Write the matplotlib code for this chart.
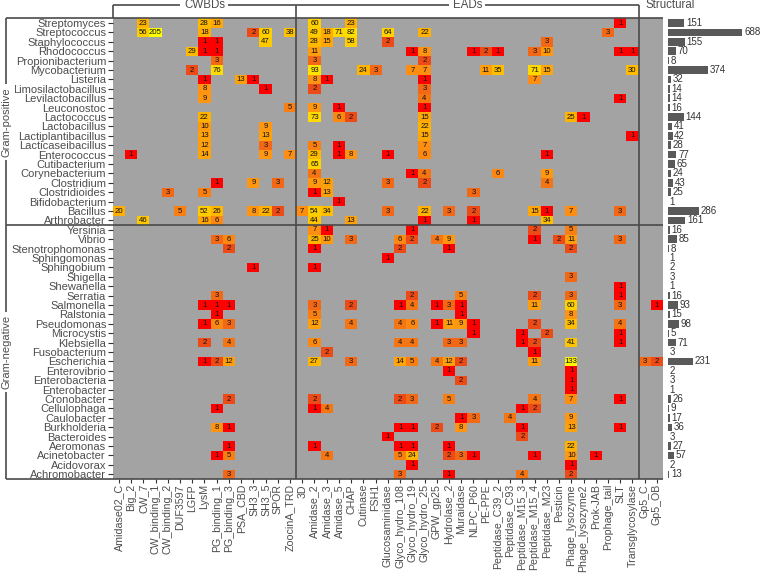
import numpy as np
import matplotlib
matplotlib.use("Agg")
import matplotlib.pyplot as plt
from matplotlib.colors import LinearSegmentedColormap, LogNorm

plt.rcParams['font.family'] = ['Liberation Sans', 'DejaVu Sans']

# ---------------- data ----------------
cwbd_cols = ["Amidase02_C", "Big_2", "CW_7", "CW_binding_1", "CW_binding_2", "DUF3597",
             "LGFP", "LysM", "PG_binding_1", "PG_binding_3", "PSA_CBD", "SH3_3", "SH3_5",
             "SPOR", "ZoocinA_TRD"]
ead_cols = ["3D", "Amidase_2", "Amidase_3", "Amidase_5", "CHAP", "Cutinase", "FSH1",
            "Glucosaminidase", "Glyco_hydro_108", "Glyco_hydro_19", "Glyco_hydro_25",
            "GPW_gp25", "Hydrolase_2", "Muraidase", "NLPC_P60", "PE-PPE", "Peptidase_C39_2",
            "Peptidase_C93", "Peptidase_M15_3", "Peptidase_M15_4", "Peptidase_M23",
            "Pesticin", "Phage_lysozyme", "Phage_lysozyme2", "Prok-JAB", "Prophage_tail",
            "SLT", "Transglycosylase"]
struct_cols = ["Gp5_C", "Gp5_OB"]

gram_pos = ["Streptomyces", "Streptococcus", "Staphylococcus", "Rhodococcus",
            "Propionibacterium", "Mycobacterium", "Listeria", "Limosilactobacillus",
            "Levilactobacillus", "Leuconostoc", "Lactococcus", "Lactobacillus",
            "Lactiplantibacillus", "Lacticaseibacillus", "Enterococcus", "Cutibacterium",
            "Corynebacterium", "Clostridium", "Clostridioides", "Bifidobacterium",
            "Bacillus", "Arthrobacter"]
gram_neg = ["Yersinia", "Vibrio", "Stenotrophomonas", "Sphingomonas", "Sphingobium",
            "Shigella", "Shewanella", "Serratia", "Salmonella", "Ralstonia", "Pseudomonas",
            "Microcystis", "Klebsiella", "Fusobacterium", "Escherichia", "Enterovibrio",
            "Enterobacteria", "Enterobacter", "Cronobacter", "Cellulophaga", "Caulobacter",
            "Burkholderia", "Bacteroides", "Aeromonas", "Acinetobacter", "Acidovorax",
            "Achromobacter"]

pos_counts = {
    "Streptomyces": {"CW_7": 23, "LysM": 28, "PG_binding_1": 16, "Amidase_2": 60, "CHAP": 23, "SLT": 1},
    "Streptococcus": {"CW_7": 56, "CW_binding_1": 205, "LysM": 18, "SH3_3": 2, "SH3_5": 60,
                      "ZoocinA_TRD": 38, "Amidase_2": 49, "Amidase_3": 18, "Amidase_5": 71,
                      "CHAP": 82, "Glucosaminidase": 64, "Glyco_hydro_25": 22, "Prophage_tail": 3},
    "Staphylococcus": {"LysM": 1, "PG_binding_1": 1, "SH3_5": 47, "Amidase_2": 28, "Amidase_3": 15,
                       "CHAP": 58, "Glucosaminidase": 2, "Peptidase_M23": 3},
    "Rhodococcus": {"LGFP": 29, "LysM": 1, "PG_binding_1": 1, "Amidase_2": 11, "Glyco_hydro_19": 1,
                    "Glyco_hydro_25": 8, "NLPC_P60": 1, "PE-PPE": 2, "Peptidase_C39_2": 1,
                    "Peptidase_M15_4": 3, "Peptidase_M23": 10, "SLT": 1, "Transglycosylase": 1},
    "Propionibacterium": {"PG_binding_1": 3, "Amidase_2": 3, "Glyco_hydro_25": 2},
    "Mycobacterium": {"LGFP": 2, "PG_binding_1": 76, "Amidase_2": 93, "Cutinase": 24, "FSH1": 3,
                      "Glyco_hydro_19": 7, "Glyco_hydro_25": 7, "PE-PPE": 11, "Peptidase_C39_2": 35,
                      "Peptidase_M15_4": 71, "Peptidase_M23": 15, "Transglycosylase": 30},
    "Listeria": {"LysM": 1, "PSA_CBD": 13, "SH3_3": 1, "Amidase_2": 8, "Amidase_3": 1,
                 "Glyco_hydro_25": 1, "Peptidase_M15_4": 7},
    "Limosilactobacillus": {"LysM": 8, "SH3_5": 1, "Amidase_2": 2, "Glyco_hydro_25": 3},
    "Levilactobacillus": {"LysM": 9, "Glyco_hydro_25": 4, "SLT": 1},
    "Leuconostoc": {"ZoocinA_TRD": 5, "Amidase_2": 9, "Amidase_5": 1, "Glyco_hydro_25": 1},
    "Lactococcus": {"LysM": 22, "Amidase_2": 73, "Amidase_5": 6, "CHAP": 2, "Glyco_hydro_25": 15,
                    "Phage_lysozyme": 25, "Phage_lysozyme2": 1},
    "Lactobacillus": {"LysM": 10, "SH3_5": 9, "Glyco_hydro_25": 22},
    "Lactiplantibacillus": {"LysM": 13, "SH3_5": 13, "Glyco_hydro_25": 15, "Transglycosylase": 1},
    "Lacticaseibacillus": {"LysM": 12, "SH3_5": 3, "Amidase_2": 5, "Amidase_5": 1, "Glyco_hydro_25": 7},
    "Enterococcus": {"Big_2": 1, "LysM": 14, "SH3_5": 9, "ZoocinA_TRD": 7, "Amidase_2": 29,
                     "Amidase_5": 1, "CHAP": 8, "Glucosaminidase": 1, "Glyco_hydro_25": 6,
                     "Peptidase_M23": 1},
    "Cutibacterium": {"Amidase_2": 65},
    "Corynebacterium": {"Amidase_2": 4, "Glyco_hydro_19": 1, "Glyco_hydro_25": 4,
                        "Peptidase_C39_2": 6, "Peptidase_M23": 9},
    "Clostridium": {"PG_binding_1": 1, "SH3_3": 9, "SPOR": 3, "Amidase_2": 9, "Amidase_3": 12,
                    "Glucosaminidase": 3, "Glyco_hydro_25": 2, "Peptidase_M23": 4},
    "Clostridioides": {"CW_binding_2": 3, "LysM": 5, "Amidase_2": 1, "Amidase_3": 13, "NLPC_P60": 3},
    "Bifidobacterium": {"Amidase_5": 1},
    "Bacillus": {"Amidase02_C": 20, "DUF3597": 5, "LysM": 52, "PG_binding_1": 26, "SH3_3": 8,
                 "SH3_5": 22, "SPOR": 2, "3D": 7, "Amidase_2": 54, "Amidase_3": 34,
                 "Glucosaminidase": 3, "Glyco_hydro_25": 22, "Hydrolase_2": 3, "NLPC_P60": 2,
                 "Peptidase_M15_4": 15, "Peptidase_M23": 1, "Phage_lysozyme": 7, "SLT": 3},
    "Arthrobacter": {"CW_7": 46, "LysM": 16, "PG_binding_1": 6, "Amidase_2": 44, "CHAP": 13,
                     "Glyco_hydro_25": 1, "NLPC_P60": 1, "Peptidase_M23": 34},
}
neg_counts = {
    "Yersinia": {"Amidase_2": 7, "Amidase_3": 1, "Glyco_hydro_19": 1, "Peptidase_M15_4": 2,
                 "Phage_lysozyme": 5},
    "Vibrio": {"PG_binding_1": 3, "PG_binding_3": 6, "Amidase_2": 25, "Amidase_3": 10, "CHAP": 3,
               "Glyco_hydro_108": 6, "Glyco_hydro_19": 2, "GPW_gp25": 4, "Hydrolase_2": 9,
               "Peptidase_M15_4": 1, "Pesticin": 2, "Phage_lysozyme": 11, "SLT": 3},
    "Stenotrophomonas": {"PG_binding_3": 2, "Amidase_2": 1, "Glyco_hydro_108": 2, "Hydrolase_2": 1,
                         "Phage_lysozyme": 2},
    "Sphingomonas": {"Glucosaminidase": 1},
    "Sphingobium": {"SH3_3": 1, "Amidase_2": 1},
    "Shigella": {"Phage_lysozyme": 3},
    "Shewanella": {"SLT": 1},
    "Serratia": {"PG_binding_1": 3, "Glyco_hydro_19": 2, "Muraidase": 5, "Peptidase_M15_4": 2,
                 "Phage_lysozyme": 3, "SLT": 1},
    "Salmonella": {"LysM": 1, "PG_binding_1": 1, "PG_binding_3": 1, "Amidase_2": 3, "CHAP": 2,
                   "Glyco_hydro_108": 1, "Glyco_hydro_19": 4, "GPW_gp25": 1, "Hydrolase_2": 3,
                   "Muraidase": 1, "Peptidase_M15_4": 11, "Phage_lysozyme": 60, "SLT": 3,
                   "Gp5_OB": 1},
    "Ralstonia": {"PG_binding_1": 1, "Amidase_2": 5, "Muraidase": 1, "Phage_lysozyme": 8},
    "Pseudomonas": {"LysM": 1, "PG_binding_1": 6, "PG_binding_3": 3, "Amidase_2": 12, "CHAP": 4,
                    "Glyco_hydro_108": 4, "Glyco_hydro_19": 6, "GPW_gp25": 1, "Hydrolase_2": 11,
                    "Muraidase": 9, "NLPC_P60": 1, "Peptidase_M15_4": 2, "Phage_lysozyme": 34,
                    "SLT": 4},
    "Microcystis": {"NLPC_P60": 1, "Peptidase_M15_3": 1, "Peptidase_M23": 2, "SLT": 1},
    "Klebsiella": {"LysM": 2, "PG_binding_3": 4, "Amidase_2": 6, "Glyco_hydro_108": 4,
                   "Glyco_hydro_19": 4, "Hydrolase_2": 3, "Muraidase": 3, "Peptidase_M15_3": 1,
                   "Peptidase_M15_4": 2, "Phage_lysozyme": 41, "SLT": 1},
    "Fusobacterium": {"Amidase_3": 2, "Peptidase_M15_4": 1},
    "Escherichia": {"LysM": 1, "PG_binding_1": 2, "PG_binding_3": 12, "Amidase_2": 27, "CHAP": 3,
                    "Glyco_hydro_108": 14, "Glyco_hydro_19": 5, "GPW_gp25": 4, "Hydrolase_2": 12,
                    "Muraidase": 2, "Peptidase_M15_4": 11, "Phage_lysozyme": 133, "Gp5_C": 3,
                    "Gp5_OB": 2},
    "Enterovibrio": {"Hydrolase_2": 1, "Phage_lysozyme": 1},
    "Enterobacteria": {"Muraidase": 2, "Phage_lysozyme": 1},
    "Enterobacter": {"Phage_lysozyme": 1},
    "Cronobacter": {"PG_binding_3": 2, "Amidase_2": 2, "Glyco_hydro_108": 2, "Glyco_hydro_19": 3,
                    "Hydrolase_2": 5, "Peptidase_M15_4": 4, "Phage_lysozyme": 7, "SLT": 1},
    "Cellulophaga": {"PG_binding_1": 1, "Amidase_2": 1, "Amidase_3": 4, "Peptidase_M15_3": 1,
                     "Peptidase_M15_4": 2},
    "Caulobacter": {"Muraidase": 1, "NLPC_P60": 3, "Peptidase_C93": 4, "Phage_lysozyme": 9},
    "Burkholderia": {"PG_binding_1": 8, "PG_binding_3": 1, "Glyco_hydro_108": 1, "Glyco_hydro_19": 1,
                     "GPW_gp25": 2, "Muraidase": 8, "Peptidase_M15_3": 1, "Phage_lysozyme": 13,
                     "SLT": 1},
    "Bacteroides": {"Glucosaminidase": 1, "Peptidase_M15_3": 2},
    "Aeromonas": {"PG_binding_3": 1, "Amidase_2": 1, "Glyco_hydro_108": 1, "Glyco_hydro_19": 1,
                  "Hydrolase_2": 1, "Phage_lysozyme": 22},
    "Acinetobacter": {"PG_binding_1": 1, "PG_binding_3": 5, "Amidase_3": 4, "Glyco_hydro_108": 5,
                      "Glyco_hydro_19": 24, "Hydrolase_2": 2, "Muraidase": 3, "NLPC_P60": 1,
                      "Peptidase_M15_4": 1, "Phage_lysozyme": 10, "Prok-JAB": 1},
    "Acidovorax": {"Glyco_hydro_19": 1, "Phage_lysozyme": 1},
    "Achromobacter": {"PG_binding_3": 3, "Glyco_hydro_108": 3, "Hydrolase_2": 1,
                      "Peptidase_M15_3": 4, "Phage_lysozyme": 2},
}

pos_totals = [151, 688, 155, 70, 8, 374, 32, 14, 14, 16, 144, 41, 42, 28, 77, 65, 24, 43, 25,
              1, 286, 161]
neg_totals = [16, 85, 8, 1, 2, 3, 1, 16, 93, 15, 98, 5, 71, 3, 231, 2, 3, 1, 26, 9, 17, 36, 3,
              27, 57, 2, 13]

# ---------------- build matrix ----------------
cols = cwbd_cols + ead_cols + struct_cols
rows = gram_pos + gram_neg
totals = pos_totals + neg_totals
counts = {**pos_counts, **neg_counts}
M = np.full((len(rows), len(cols)), np.nan)
for i, g in enumerate(rows):
    for c, v in counts[g].items():
        M[i, cols.index(c)] = v

W, H = 760, 576
fig = plt.figure(figsize=(W / 100, H / 100), dpi=100)

hl, hr, ht, hb = 112.7, 663.0, 18.3, 479.0
ax = fig.add_axes([hl / W, 1 - hb / H, (hr - hl) / W, (hb - ht) / H])
ax.set_facecolor('#A3A3A3')

vmax = np.nanmax(M)
stops = [(1, '#FF0000'), (2, '#EC4A16'), (3, '#F26914'), (8, '#FF9412'),
         (23, '#FFB300'), (60, '#FFD000'), (133, '#FFF500'), (vmax, '#FFFF00')]
cmap = LinearSegmentedColormap.from_list(
    'heat', [(np.log(v) / np.log(vmax), c) for v, c in stops])
norm = LogNorm(vmin=1, vmax=vmax)

x_edges = np.arange(len(cols) + 1) - 0.5
y_edges = np.arange(len(rows) + 1) - 0.5
ax.pcolormesh(x_edges, y_edges, np.ma.masked_invalid(M), cmap=cmap, norm=norm,
              edgecolors='none')
for i in range(len(rows)):
    for j in range(len(cols)):
        if not np.isnan(M[i, j]):
            ax.text(j, i, f"{int(M[i, j])}", ha='center', va='center',
                    fontsize=5.6, color='#111111')

ax.set_xlim(-0.5, len(cols) - 0.5)
ax.set_ylim(len(rows) - 0.5, -0.5)
ax.set_xticks(range(len(cols)))
ax.set_xticklabels(cols, rotation=90, fontsize=7.7, color='#4D4D4D')
ax.set_yticks(range(len(rows)))
ax.set_yticklabels(rows, fontsize=8, color='#4D4D4D')
ax.tick_params(axis='y', length=3.3, width=0.8, color='#333333', pad=1.5)
ax.tick_params(axis='x', length=2.8, width=0.8, color='#333333', pad=0.8)
for s in ax.spines.values():
    s.set_visible(False)

line_kw = dict(color='#4A4A4A', lw=1.2, clip_on=False, solid_capstyle='butt')
xt = ax.get_xaxis_transform()
yt = ax.get_yaxis_transform()
n_c1 = len(cwbd_cols)
n_c2 = n_c1 + len(ead_cols)
top_y = 1 + (ht - 5.0) / (hb - ht)
left_x = (6.3 - hl) / (hr - hl)

# top brackets
ax.plot([-0.5, n_c2 - 0.5], [top_y, top_y], transform=xt, **line_kw)
ax.plot([-0.5, -0.5], [1, top_y], transform=xt, **line_kw)
ax.plot([n_c1 - 0.5, n_c1 - 0.5], [0, top_y], transform=xt, **line_kw)
ax.plot([n_c2 - 0.5, n_c2 - 0.5], [0, top_y], transform=xt, **line_kw)
box = dict(boxstyle='square,pad=0.3', fc='white', ec='none')
ax.text((n_c1 - 1) / 2, top_y, "CWBDs", transform=xt, ha='center', va='center',
        fontsize=8.3, color='#4D4D4D', bbox=box)
ax.text((n_c1 + n_c2 - 1) / 2, top_y, "EADs", transform=xt, ha='center', va='center',
        fontsize=8.3, color='#4D4D4D', bbox=box)
ax.text(n_c2 - 0.5 + 0.55, top_y, "Structural", transform=xt, ha='left', va='center',
        fontsize=8.3, color='#4D4D4D')

# left brackets
n_r1 = len(gram_pos)
ax.plot([left_x, 1], [-0.5, -0.5], transform=yt, **line_kw)
ax.plot([left_x, 1], [n_r1 - 0.5, n_r1 - 0.5], transform=yt, **line_kw)
ax.plot([left_x, 1], [len(rows) - 0.5, len(rows) - 0.5], transform=yt, **line_kw)
ax.plot([left_x, left_x], [-0.5, len(rows) - 0.5], transform=yt, **line_kw)
ax.text(left_x, (n_r1 - 1) / 2, "Gram-positive", transform=yt, rotation=90,
        ha='center', va='center', fontsize=8, color='#4D4D4D', bbox=box)
ax.text(left_x, (n_r1 + len(rows) - 1) / 2, "Gram-negative", transform=yt, rotation=90,
        ha='center', va='center', fontsize=8, color='#4D4D4D', bbox=box)

# ---------------- side bars ----------------
bl = 668.0
bx = fig.add_axes([bl / W, 1 - hb / H, (W - bl) / W, (hb - ht) / H])
bx.barh(range(len(rows)), totals, height=0.8, color='#595959')
bx.set_ylim(len(rows) - 0.5, -0.5)
bx.set_xlim(0, max(totals) * (W - bl) / 74.4)
for i, t in enumerate(totals):
    bx.annotate(str(t), (t, i), xytext=(1.2, 0), textcoords='offset points',
                ha='left', va='center', fontsize=7, color='#333333')
bx.axis('off')

fig.savefig('out.png', dpi=100)
